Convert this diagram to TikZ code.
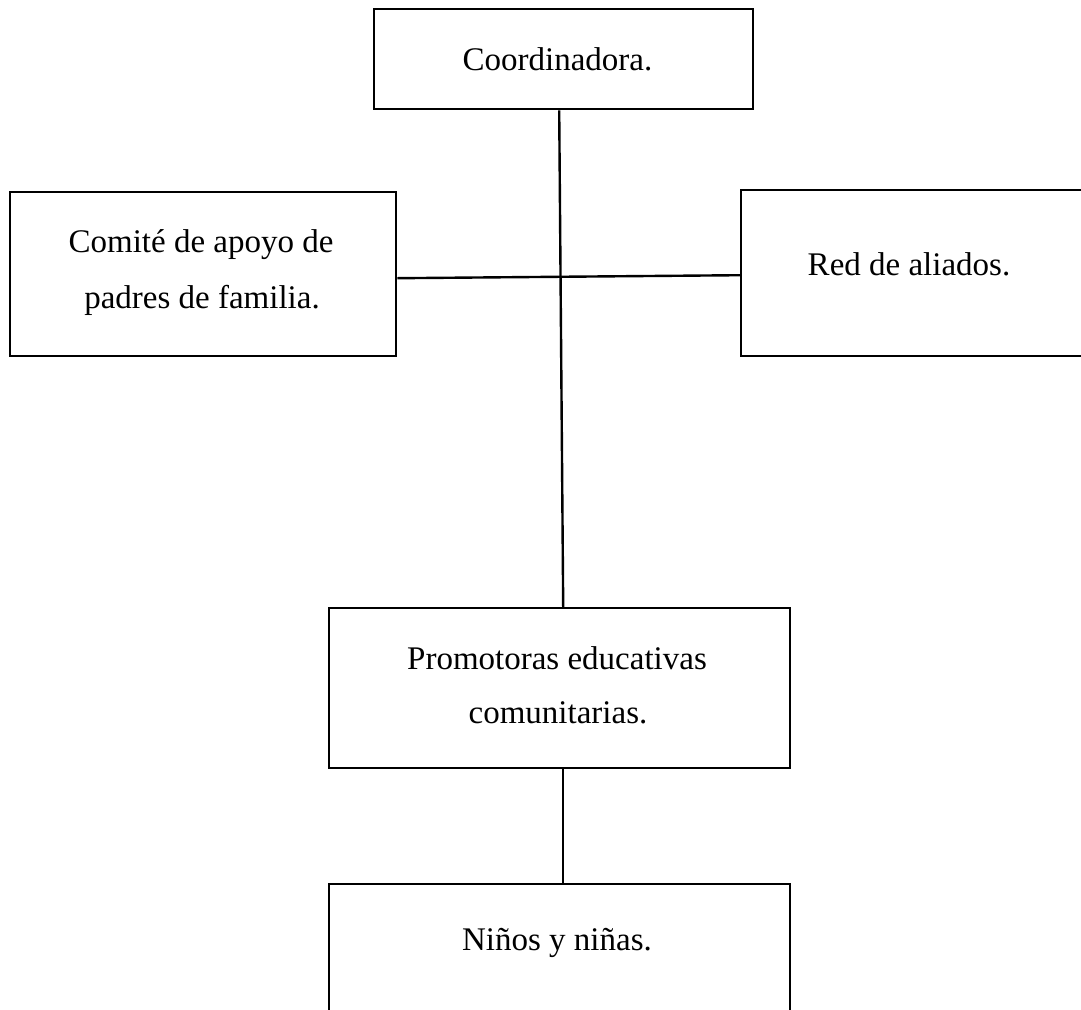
\documentclass[tikz,border=0pt]{standalone}
\usepackage{fontspec}
\setmainfont{Liberation Serif}
\begin{document}
\begin{tikzpicture}[x=1pt,y=-1pt,
  boxnode/.style={draw=black,line width=2.4pt,rectangle,inner sep=0pt,anchor=north west},
  txt/.style={anchor=base,inner sep=0pt,font=\fontsize{33}{40}\selectfont},
  conn/.style={draw=black,line width=2.4pt}]
\useasboundingbox (0,0) rectangle (1081,1009);
\clip (0,0) rectangle (1081,1009);
% boxes
\node[boxnode,minimum width=379pt,minimum height=100pt] (coord) at (373,8) {};
\node[boxnode,minimum width=386pt,minimum height=164pt] (comite) at (9,191) {};
\node[boxnode,minimum width=380pt,minimum height=166pt] (red) at (740,189) {};
\node[boxnode,minimum width=461pt,minimum height=160pt] (prom) at (328,607) {};
\node[boxnode,minimum width=461pt,minimum height=170pt] (nin) at (328,883) {};
% texts
\node[txt] (coordT) at (557.5,70) {Coordinadora.};
\node[txt] (comA) at (201,252) {Comité de apoyo de};
\node[txt] (comB) at (202,308) {padres de familia.};
\node[txt] (redT) at (909,275) {Red de aliados.};
\node[txt] (promA) at (557,669) {Promotoras educativas};
\node[txt] (promB) at (558,723) {comunitarias.};
\node[txt] (ninT) at (557,950) {Niños y niñas.};
% connectors
\draw[conn] ([xshift=-4.5pt]coord.south) -- ([xshift=3.5pt]prom.north);
\draw[conn] ([yshift=-4pt]comite.east) -- ([yshift=-2pt]red.west);
\draw[conn] ([xshift=3.5pt]prom.south) -- ([xshift=3.5pt]nin.north);
\end{tikzpicture}
\end{document}
